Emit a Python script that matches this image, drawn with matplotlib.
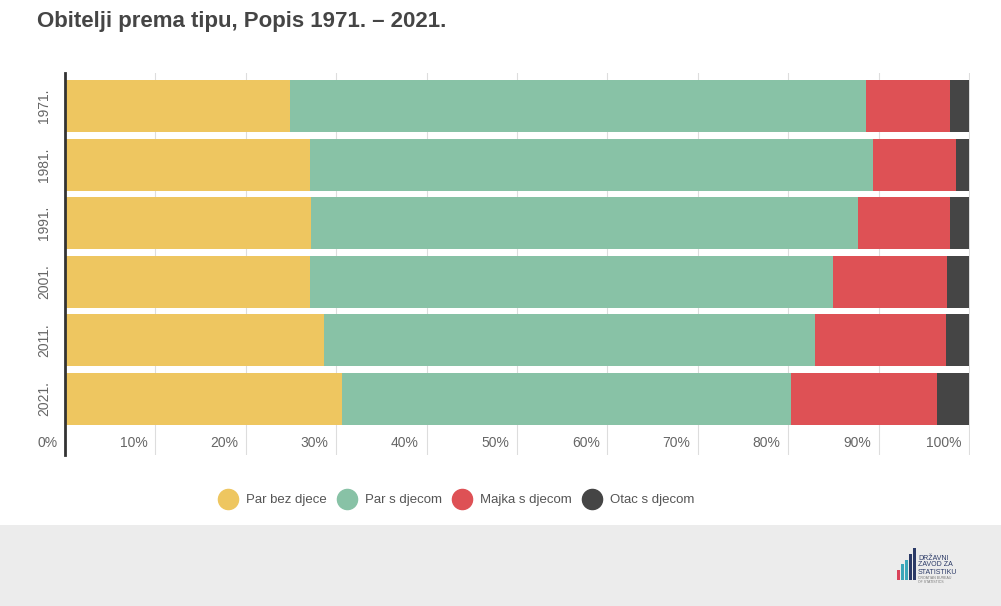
import matplotlib.pyplot as plt
import numpy as np
from matplotlib.lines import Line2D
from matplotlib.patches import Rectangle

plt.rcParams["font.family"] = ["Liberation Sans", "DejaVu Sans"]

godine = ["1971.", "1981.", "1991.", "2001.", "2011.", "2021."]
tipovi = ["Par bez djece", "Par s djecom", "Majka s djecom", "Otac s djecom"]
par_bez_djece = [24.9, 27.1, 27.2, 27.1, 28.6, 30.6]
par_s_djecom = [63.7, 62.3, 60.5, 57.9, 54.4, 49.7]
majka_s_djecom = [9.3, 9.1, 10.2, 12.6, 14.4, 16.2]
otac_s_djecom = [2.1, 1.5, 2.1, 2.4, 2.6, 3.5]
x_ticks = [0, 10, 20, 30, 40, 50, 60, 70, 80, 90, 100]
x_labels = [f"{v}%" for v in x_ticks]

boje = ["#EEC660", "#88C2A6", "#DE5155", "#454545"]

W, H = 1001, 606
fig = plt.figure(figsize=(W / 100, H / 100), dpi=100)
fig.patch.set_facecolor("white")

# siva traka na dnu
fig.add_artist(Rectangle((0, 0), 1, 81 / H, transform=fig.transFigure,
                         facecolor="#ECECEC", edgecolor="none", zorder=0))

ax = fig.add_axes([65 / W, 1 - 455 / H, 905 / W, 382 / H])
y = np.arange(len(godine))
lijevo = np.zeros(len(godine))
for vrijednosti, boja in zip([par_bez_djece, par_s_djecom, majka_s_djecom, otac_s_djecom], boje):
    ax.barh(y, vrijednosti, left=lijevo, height=0.89, color=boja, zorder=2)
    lijevo = lijevo + np.array(vrijednosti)

ax.set_xlim(0, 100.1)
ax.set_ylim(5.956, -0.563)
for v in x_ticks[1:]:
    ax.axvline(v, color="#DDDDDD", lw=0.8, zorder=1)
for v, lab in zip(x_ticks, x_labels):
    ax.annotate(lab, xy=(v, 0.031), xycoords=("data", "axes fraction"),
                xytext=(-5.5, 0), textcoords="offset points",
                ha="right", va="center", fontsize=10, color="#666666")

ax.set_xticks([])
ax.set_yticks(y)
ax.set_yticklabels(godine, rotation=90, va="center", fontsize=10, color="#666666")
ax.tick_params(axis="y", length=0, pad=10)
for s in ["top", "right", "bottom"]:
    ax.spines[s].set_visible(False)
ax.spines["left"].set_color("#333333")
ax.spines["left"].set_linewidth(2)
ax.spines["left"].set_zorder(5)

fig.text(37 / W, 1 - 22 / H, "Obitelji prema tipu, Popis 1971. \u2013 2021.",
         fontsize=16, fontweight="bold", color="#454545", ha="left", va="center")

handles = [Line2D([], [], marker="o", ls="none", markersize=14.5,
                  markerfacecolor=b, markeredgecolor=b) for b in boje]
fig.legend(handles, tipovi, loc="center", bbox_to_anchor=(456 / W, 1 - 500 / H),
           ncol=4, frameon=False, fontsize=9.5, handlelength=1.5,
           handletextpad=0.6, columnspacing=0.8, labelcolor="#555555")

# logo
logo_boje = ["#D9435A", "#3AA6B9", "#3AA6B9", "#2B3A67", "#2B3A67"]
logo_vis = [10, 16, 20, 26, 32]
for i, (b, h) in enumerate(zip(logo_boje, logo_vis)):
    fig.add_artist(Rectangle(((897 + i * 4) / W, 1 - 580 / H), 3 / W, h / H,
                             transform=fig.transFigure, facecolor=b, edgecolor="none"))
fig.text(918 / W, 1 - 565 / H, "DRŽAVNI\nZAVOD ZA\nSTATISTIKU", fontsize=5,
         color="#2B3A67", ha="left", va="center", linespacing=1.0)
fig.text(918 / W, 1 - 580 / H, "CROATIAN BUREAU\nOF STATISTICS", fontsize=2.5,
         color="#777777", ha="left", va="center")

fig.savefig("out.png", dpi=100)
